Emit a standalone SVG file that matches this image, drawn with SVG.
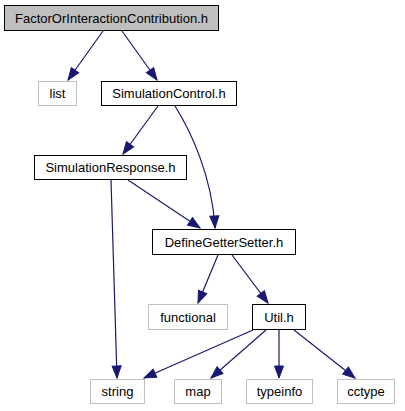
<svg xmlns="http://www.w3.org/2000/svg" width="405" height="411" viewBox="0 0 405 411">
<style>
.bg{fill:#ffffff}
.n rect{fill:#ffffff;stroke:#000000;stroke-width:1}
.n.ext rect{stroke:#bfbfbf}
.n.root rect{fill:#bfbfbf}
text{font-family:"Liberation Sans",Arial,Helvetica,sans-serif;font-size:13px;fill:#000000;text-anchor:middle}
.e{fill:none;stroke:#191970;stroke-width:1.2;marker-end:url(#ah)}
</style>
<defs>
<marker id="ah" markerUnits="userSpaceOnUse" markerWidth="14" markerHeight="11" viewBox="0 0 14 11" refX="13" refY="5.5" orient="auto">
<path d="M1,1 L13,5.5 L1,10 z" fill="#191970" stroke="#191970" stroke-width="1"/>
</marker>
</defs>
<rect class="bg" x="0" y="0" width="405" height="411"/>
<g id="edges">
<path class="e" d="M103,31 L68,80"/>
<path class="e" d="M122,31 L157,80"/>
<path class="e" d="M158,106 L123,154"/>
<path class="e" d="M175,106 C190,130 212,175 215,228"/>
<path class="e" d="M128,180 L200,228"/>
<path class="e" d="M111,180 L117,378"/>
<path class="e" d="M218,255 L198,303"/>
<path class="e" d="M232,255 L268,303"/>
<path class="e" d="M253,330 L144,378"/>
<path class="e" d="M266,330 L211,378"/>
<path class="e" d="M279,330 L279,378"/>
<path class="e" d="M294,330 L355,378"/>
</g>
<g id="FactorOrInteractionContribution" class="n root"><rect x="4.5" y="5.5" width="214" height="25"/><text x="111.5" y="23">FactorOrInteractionContribution.h</text></g>
<g id="list" class="n ext"><rect x="38.5" y="81.5" width="38" height="24"/><text x="57.5" y="98">list</text></g>
<g id="SimulationControl" class="n"><rect x="101.5" y="81.5" width="135" height="24"/><text x="169" y="98">SimulationControl.h</text></g>
<g id="SimulationResponse" class="n"><rect x="34.5" y="155.5" width="152" height="24"/><text x="110.5" y="172">SimulationResponse.h</text></g>
<g id="DefineGetterSetter" class="n"><rect x="152.5" y="229.5" width="143" height="25"/><text x="224" y="247">DefineGetterSetter.h</text></g>
<g id="functional" class="n ext"><rect x="148.5" y="304.5" width="79" height="25"/><text x="188" y="322">functional</text></g>
<g id="Util" class="n"><rect x="252.5" y="304.5" width="53" height="25"/><text x="279" y="322">Util.h</text></g>
<g id="string" class="n ext"><rect x="90.5" y="379.5" width="54" height="24"/><text x="117.5" y="396">string</text></g>
<g id="map" class="n ext"><rect x="174.5" y="379.5" width="47" height="24"/><text x="198" y="396">map</text></g>
<g id="typeinfo" class="n ext"><rect x="246.5" y="379.5" width="66" height="24"/><text x="279.5" y="396">typeinfo</text></g>
<g id="cctype" class="n ext"><rect x="337.5" y="379.5" width="57" height="24"/><text x="366" y="396">cctype</text></g>
</svg>
